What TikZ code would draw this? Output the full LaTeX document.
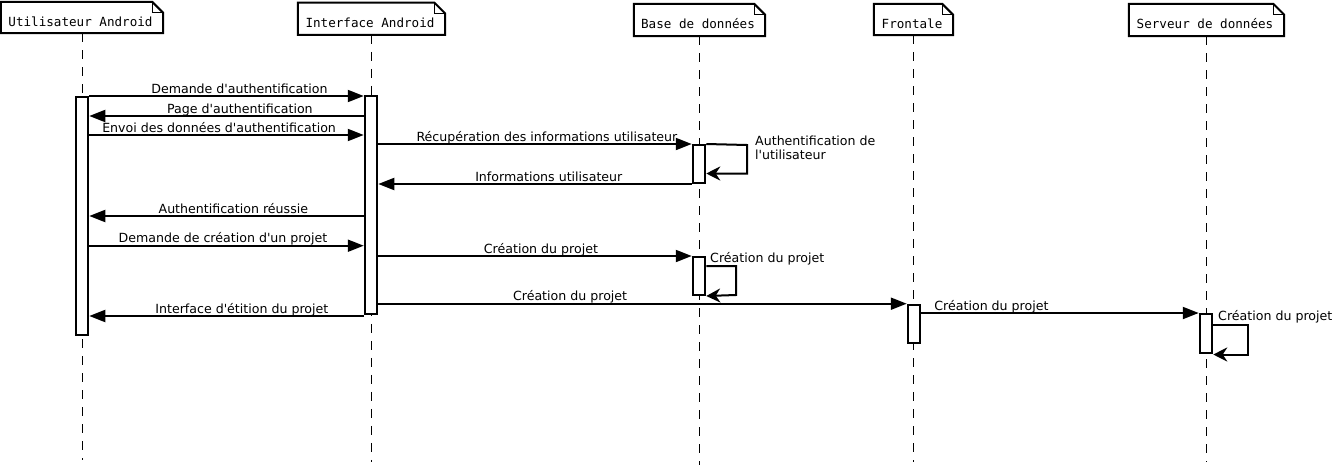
\documentclass[tikz,border=0pt]{standalone}
\usepackage{fontspec}
\newfontfamily\labfam{DejaVu Sans}
\newfontfamily\monofam{DejaVu Sans Mono}
\usetikzlibrary{arrows.meta}
\newcommand\drawnote[1]{%
  \draw[noteline] (#1.south west) -- (#1.north west) -- ([xshift=-11pt]#1.north east) -- ([yshift=-11pt]#1.north east) -- (#1.south east) -- cycle;
  \draw[foldline] ([xshift=-11pt]#1.north east) |- ([yshift=-11pt]#1.north east);}
\begin{document}
\begin{tikzpicture}[x=1pt,y=-1pt,
  hdr/.style={inner sep=0pt, font=\monofam\fontsize{12.6}{15}\selectfont, text height=17pt, text depth=0pt},
  noteline/.style={line width=2pt, line join=miter},
  foldline/.style={line width=1pt},
  life/.style={line width=1pt, dash pattern=on 9pt off 8pt},
  bar/.style={draw, fill=white, line width=2pt, minimum width=12.5pt, inner sep=0pt},
  msg/.style={line width=2pt, -{Triangle[length=16pt,width=12pt]}},
  selfmsg/.style={line width=2pt, -{Stealth[length=14pt,width=14pt,inset=4.5pt]}},
  lbl/.style={font=\labfam\fontsize{12.6}{15}\selectfont, anchor=base, inner sep=0pt, yshift=3pt},
  sidelbl/.style={font=\labfam\fontsize{12.6}{15}\selectfont, anchor=base west, inner sep=0pt}
]
\useasboundingbox (0,0) rectangle (1335,466);
\fill[white] (0,0) rectangle (1335,466);

% headers
\node[hdr, minimum width=162pt, minimum height=31pt] (h1) at (82,17.5) {\kern-3pt Utilisateur Android};
\node[hdr, minimum width=147pt, minimum height=32pt] (h2) at (371.5,18.7) {\kern-3pt Interface Android};
\node[hdr, minimum width=131pt, minimum height=32pt] (h3) at (699.5,20) {\kern-3pt Base de donn\'ees};
\node[hdr, minimum width=79pt, minimum height=31pt] (h4) at (913.5,19.5) {\kern-3pt Frontale};
\node[hdr, minimum width=155pt, minimum height=32pt] (h5) at (1206.5,20) {\kern-3pt Serveur de donn\'ees};
\drawnote{h1}\drawnote{h2}\drawnote{h3}\drawnote{h4}\drawnote{h5}

% lifelines
\draw[life] (h1.south) -- (h1.south |- 0,460);
\draw[life] (h2.south) -- (h2.south |- 0,462);
\draw[life] (h3.south) -- (h3.south |- 0,465);
\draw[life] (h4.south) -- (h4.south |- 0,462);
\draw[life] (h5.south) -- (h5.south |- 0,462);

% activation bars
\node[bar, minimum height=238pt] (ub) at (82,216) {};
\node[bar, minimum height=218pt] (ib) at (371,205) {};
\node[bar, minimum height=38pt] (bb1) at (699,164) {};
\node[bar, minimum height=38pt] (bb2) at (699,276) {};
\node[bar, minimum height=38pt] (fb) at (914,323.7) {};
\node[bar, minimum height=39pt] (sb) at (1206,333.5) {};

% messages
\draw[msg] (ub.east |- 0,96) -- (ib.west |- 0,96) node[lbl,pos=0.547] {Demande d'authentification};
\draw[msg] (ib.west |- 0,116) -- (ub.east |- 0,116) node[lbl,pos=0.451] {Page d'authentification};
\draw[msg] (ub.east |- 0,135) -- (ib.west |- 0,135) node[lbl,pos=0.473] {Envoi des donn\'ees d'authentification};
\draw[msg] (ib.east |- bb1.north west) -- (bb1.north west) node[lbl,pos=0.538] {R\'ecup\'eration des informations utilisateur};
\draw[selfmsg] (bb1.north east) -- (747,145) -- (747,173.5) -- (bb1.east |- 0,173.5);
\node[sidelbl] (t1) at (755,145) {Authentification de};
\node[sidelbl] (t2) at (755,159.3) {l'utilisateur};
\draw[msg] (bb1.south west) -- (ib.east |- bb1.south west) node[lbl,pos=0.456] {Informations utilisateur};
\draw[msg] (ib.west |- 0,216) -- (ub.east |- 0,216) node[lbl,pos=0.475] {Authentification r\'eussie};
\draw[msg] (ub.east |- 0,245.7) -- (ib.west |- 0,245.7) node[lbl,pos=0.487] {Demande de cr\'eation d'un projet};
\draw[msg] (ib.east |- bb2.north west) -- (bb2.north west) node[lbl,pos=0.519] {Cr\'eation du projet};
\draw[selfmsg] (bb2.east |- 0,266) -- (736,266) -- (736,295) -- (bb2.south east);
\node[sidelbl] (t3) at (710,262.7) {Cr\'eation du projet};
\draw[msg] (ib.east |- fb.north west) -- (fb.north west) node[lbl,pos=0.363] {Cr\'eation du projet};
\draw[msg] (ib.west |- 0,316) -- (ub.east |- 0,316) node[lbl,pos=0.444] {Interface d'\'etition du projet};
\draw[msg] (fb.east |- sb.north west) -- (sb.north west) node[lbl,pos=0.253] {Cr\'eation du projet};
\draw[selfmsg] (sb.east |- 0,325) -- (1248,325) -- (1248,354.5) -- (sb.east |- 0,354.5);
\node[sidelbl] (t4) at (1218,320.7) {Cr\'eation du projet};
\end{tikzpicture}
\end{document}
